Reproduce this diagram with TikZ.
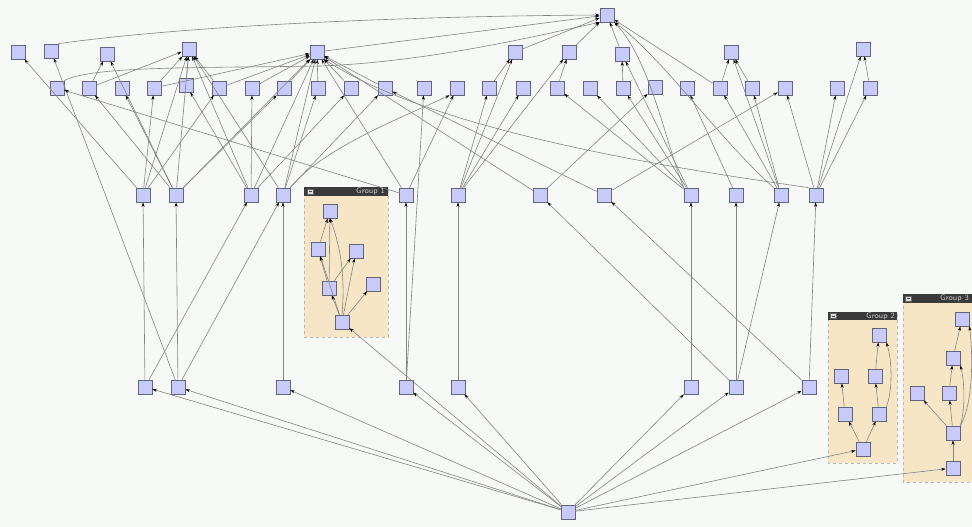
\documentclass[tikz,border=0pt]{standalone}
\usepackage{tikz}
\usetikzlibrary{arrows.meta}
\definecolor{paper}{RGB}{246,249,246}
\definecolor{vxfill}{RGB}{200,202,250}
\definecolor{vxline}{RGB}{100,100,125}
\definecolor{edgegray}{RGB}{132,132,132}
\definecolor{grpfill}{RGB}{246,230,198}
\definecolor{grpbar}{RGB}{58,58,58}

\begin{document}
\begin{tikzpicture}[
    x=1pt, y=-1pt,
    vx/.style={rectangle, draw=vxline, fill=vxfill, line width=0.7pt,
        minimum size=14pt, inner sep=0pt},
    ed/.style={draw=edgegray, line width=0.6pt,
        -{Stealth[length=4.5pt,width=3pt,color=black]}},
    grp/.style={fill=grpfill, draw=gray!55, dashed, line width=0.4pt},
    grpbarbox/.style={fill=grpbar},
    grptitle/.style={font=\sffamily\fontsize{8}{8}\selectfont, text=black!20,
        anchor=east, inner sep=0pt},
    minus/.style={fill=black!15, draw=black!60, line width=0.3pt},
]
\useasboundingbox (0,0) rectangle (972,527);
\fill[paper] (0,0) rectangle (972,527);
\clip (0,0) rectangle (972,527);

% ====== GROUP BOXES ======
\filldraw[grp] (304,187) rectangle (388,337);
\fill[grpbarbox] (304,187) rectangle (388,196);
\filldraw[minus] (307,189) rectangle (313,194);
\draw[black!70, line width=0.5pt] (308.5,191.5) -- (311.5,191.5);
\node[grptitle] (g1-title) at (385,191.7) {Group 1};

\filldraw[grp] (828,312) rectangle (897,463);
\fill[grpbarbox] (828,312) rectangle (897,320);
\filldraw[minus] (830,313.5) rectangle (836,318.5);
\draw[black!70, line width=0.5pt] (831.5,316) -- (834.5,316);
\node[grptitle] (g2-title) at (895,316.2) {Group 2};

\filldraw[grp] (903,294) rectangle (990,482);
\fill[grpbarbox] (903,294) rectangle (990,303);
\filldraw[minus] (905,296) rectangle (911,301);
\draw[black!70, line width=0.5pt] (906.5,298.5) -- (909.5,298.5);
\node[grptitle] (g3-title) at (969,298.7) {Group 3};

% ====== MAIN GRAPH ======
\node[vx] (top) at (607,15) {};

\foreach \i/\x/\y in {1/18/52, 2/51/51, 3/107/54, 4/189/49, 5/317/52,
    6/515/52, 7/569/52, 8/622/54, 9/731/52, 10/863/49}
    \node[vx] (r1-\i) at (\x,\y) {};

\foreach \i/\x/\y in {1/57/88, 2/89/88, 3/122/88, 4/154/88, 5/186/85,
    6/219/88, 7/252/88, 8/284/88, 9/318/88, 10/351/88, 11/385/88,
    12/424/88, 13/457/88, 14/489/88, 15/523/88, 16/557/88, 17/590/88,
    18/623/88, 19/655/87, 20/687/88, 21/720/88, 22/752/88, 23/785/88,
    24/837/88, 25/870/88}
    \node[vx] (r2-\i) at (\x,\y) {};

\foreach \i/\x in {1/143, 2/176, 3/251, 4/283, 5/406, 6/458,
    7/540, 8/604, 9/691, 10/736, 11/781, 12/816}
    \node[vx] (r3-\i) at (\x,195) {};

\foreach \i/\x in {1/145, 2/178, 3/283, 4/406, 5/458, 6/691, 7/736, 8/809}
    \node[vx] (r4-\i) at (\x,387) {};

\node[vx] (hub) at (568,512) {};

% group members
\node[vx] (g1-a) at (330,211) {};
\node[vx] (g1-b) at (318,249) {};
\node[vx] (g1-c) at (356,251) {};
\node[vx] (g1-d) at (329,288) {};
\node[vx] (g1-e) at (373,284) {};
\node[vx] (g1-f) at (342,322) {};

\node[vx] (g2-a) at (879,335) {};
\node[vx] (g2-b) at (841,376) {};
\node[vx] (g2-c) at (875,376) {};
\node[vx] (g2-d) at (845,414) {};
\node[vx] (g2-e) at (879,414) {};
\node[vx] (g2-f) at (863,449) {};

\node[vx] (g3-a) at (962,319) {};
\node[vx] (g3-b) at (953,358) {};
\node[vx] (g3-c) at (917,393) {};
\node[vx] (g3-d) at (949,393) {};
\node[vx] (g3-e) at (953,433) {};
\node[vx] (g3-f) at (953,468) {};

% ====== EDGES ======
% from the bottom hub
\foreach \b in {r4-1, r4-2, r4-3, r4-4, r4-5, r4-6, r4-7, r4-8,
    g1-f, g2-f, g3-f}
    \draw[ed] (hub) -- (\b);

% lower level
\foreach \a/\b in {r4-1/r3-1, r4-1/r3-3, r4-2/r3-2, r4-2/r1-2, r4-2/r3-4,
    r4-3/r3-4, r4-4/r3-5, r4-4/r2-12, r4-5/r3-6, r4-6/r3-9,
    r4-7/r3-10, r4-7/r3-7, r4-7/r3-11, r4-8/r3-12, r4-8/r3-8}
    \draw[ed] (\a) -- (\b);

% middle level
\foreach \a/\b in {r3-1/r1-1, r3-1/r2-4, r3-1/r1-4, r3-1/r2-6,
    r3-2/r2-2, r3-2/r2-3, r3-2/r1-3, r3-2/r1-4, r3-2/r2-8, r3-2/r1-5,
    r3-3/r2-5, r3-3/r1-4, r3-3/r1-5, r3-3/r2-7, r3-3/r2-10,
    r3-4/r1-4, r3-4/r1-5, r3-4/r2-9, r3-4/r2-11,
    r3-5/r2-1, r3-5/r1-5, r3-5/r2-13,
    r3-6/r2-14, r3-6/r1-6, r3-6/r2-15, r3-6/r1-7,
    r3-7/r1-5, r3-7/r2-19, r3-8/r2-11, r3-8/r2-23,
    r3-9/r1-8, r3-9/r2-18, r3-9/r2-17, r3-9/r2-16, r3-10/r2-20,
    r3-11/r1-9, r3-11/r2-21, r3-11/r2-22,
    r3-12/r2-24, r3-12/r1-10, r3-12/r2-25, r3-12/r2-23}
    \draw[ed] (\a) -- (\b);

% upper level
\foreach \a/\b in {r2-2/r1-3, r2-2/r1-4, r2-4/r1-4, r2-4/r1-5, r2-5/r1-4,
    r2-6/r1-4, r2-6/r1-5, r2-7/r1-5, r2-8/r1-5, r2-9/r1-5, r2-10/r1-5,
    r2-11/r1-5, r2-14/r1-6, r2-16/r1-7, r2-18/r1-8, r2-21/r1-9,
    r2-21/top, r2-22/r1-9, r2-25/r1-10,
    r1-5/top, r1-6/top, r1-7/top, r1-8/top}
    \draw[ed] (\a) -- (\b);

% long bent ones
\draw[ed] (r1-2.north east) .. controls (200,24) and (430,16) .. (top.west);
\draw[ed] (r2-1.north east) .. controls (90,66) and (200,68) .. (320,66)
    .. controls (430,62) and (540,35) .. (top.south west);
\draw[ed] (r3-4.north east) .. controls (320,150) and (400,118) .. (r2-13.south west);
\draw[ed] (r3-9.north west) .. controls (665,140) and (650,60) .. (top.south east);
\draw[ed] (r3-11.north west) .. controls (720,140) and (660,55) .. (top.south east);
\draw[ed] (r3-12.north west) .. controls (700,172) and (440,135) .. (r1-5.south east);

% ====== INSIDE THE GROUPS ======
\foreach \a/\b in {g1-b/g1-a, g1-d/g1-a, g1-d/g1-b, g1-f/g1-b, g1-d/g1-c,
    g1-f/g1-c, g1-f/g1-d, g1-f/g1-e,
    g2-f/g2-d, g2-f/g2-e, g2-d/g2-b, g2-e/g2-c, g2-c/g2-a,
    g3-f/g3-e, g3-e/g3-c, g3-e/g3-d, g3-d/g3-b, g3-b/g3-a}
    \draw[ed] (\a) -- (\b);
\draw[ed] (g1-f.north) .. controls (346,270) and (338,240) .. (g1-a.south);
\draw[ed] (g2-e.north east) .. controls (893,390) and (892,360) .. (g2-a.south east);
\draw[ed] (g3-e.north east) .. controls (966,405) and (964,380) .. (g3-b.south east);
\draw[ed] (g3-e.north east) .. controls (975,400) and (972,345) .. (g3-a.south east);

\end{tikzpicture}
\end{document}
